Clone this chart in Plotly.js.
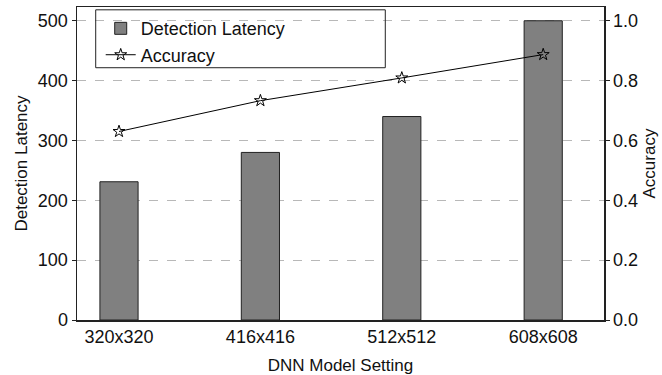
<!DOCTYPE html>
<html><head><meta charset="utf-8">
<script src="https://cdn.plot.ly/plotly-3.0.1.min.js"></script>
<style>html,body{margin:0;padding:0;background:#fff}#c{width:662px;height:375px}</style>
</head><body><div id="c"></div>
<script>
const categories = ['320x320', '416x416', '512x512', '608x608'];
const latency = [231, 280, 340, 500];
const accuracy = [0.63, 0.733, 0.809, 0.887];
const latencyTicks = [0, 100, 200, 300, 400, 500];
const accuracyTicks = [0, 0.2, 0.4, 0.6, 0.8, 1.0];

const family = 'Liberation Sans, Arial, sans-serif';
const tickFont = {family: family, size: 18, color: '#111'};
const titleFont = {family: family, size: 17, color: '#111'};
const legendFont = {family: family, size: 18, color: '#111'};

const traces = [
  {type: 'bar', name: 'Detection Latency', x: categories, y: latency, width: 0.27,
   marker: {color: '#808080', line: {color: '#222', width: 1}}, yaxis: 'y'},
  {type: 'scatter', mode: 'lines+markers', name: 'Accuracy', x: categories, y: accuracy, yaxis: 'y2',
   line: {color: '#000', width: 1}, marker: {symbol: 'star-open', size: 9, color: '#000', line: {width: 1}}}
];

const layout = {
  width: 662, height: 375, paper_bgcolor: '#fff', plot_bgcolor: '#fff', font: tickFont,
  margin: {l: 77, r: 58, t: 7, b: 55},
  showlegend: true,
  legend: {x: 0.045, y: 0.99, xanchor: 'left', yanchor: 'top', bgcolor: 'rgba(0,0,0,0)', borderwidth: 0,
           font: legendFont, tracegroupgap: 0},
  xaxis: {type: 'category', range: [-0.297, 3.43], showline: true, linecolor: '#222', linewidth: 1.5, mirror: true,
          ticks: '', showgrid: false,
          title: {text: 'DNN Model Setting', font: titleFont, standoff: 16}, tickfont: tickFont},
  yaxis: {range: [0, 523], tickvals: latencyTicks, showline: true, linecolor: '#222', linewidth: 1.5, mirror: true,
          ticks: 'outside', ticklen: 4, tickcolor: '#222', showgrid: true, gridcolor: '#888', griddash: 'dash', gridwidth: 0.6,
          zeroline: false, title: {text: 'Detection Latency', font: titleFont, standoff: 6}, tickfont: tickFont},
  yaxis2: {overlaying: 'y', side: 'right', range: [0, 1.046], tickvals: accuracyTicks, tickformat: '.1f',
           showline: true, linecolor: '#222', linewidth: 1.5, ticks: 'outside', ticklen: 4, tickcolor: '#222',
           showgrid: false, zeroline: false, title: {text: 'Accuracy', font: titleFont, standoff: 6}, tickfont: tickFont},
  shapes: [{type: 'rect', xref: 'paper', yref: 'paper', x0: 0.0355, x1: 0.585, y0: 0.806, y1: 0.991,
            line: {color: '#222', width: 1}, fillcolor: 'rgba(0,0,0,0)'}]
};

Plotly.newPlot('c', traces, layout, {displayModeBar: false, staticPlot: true});
</script></body></html>
